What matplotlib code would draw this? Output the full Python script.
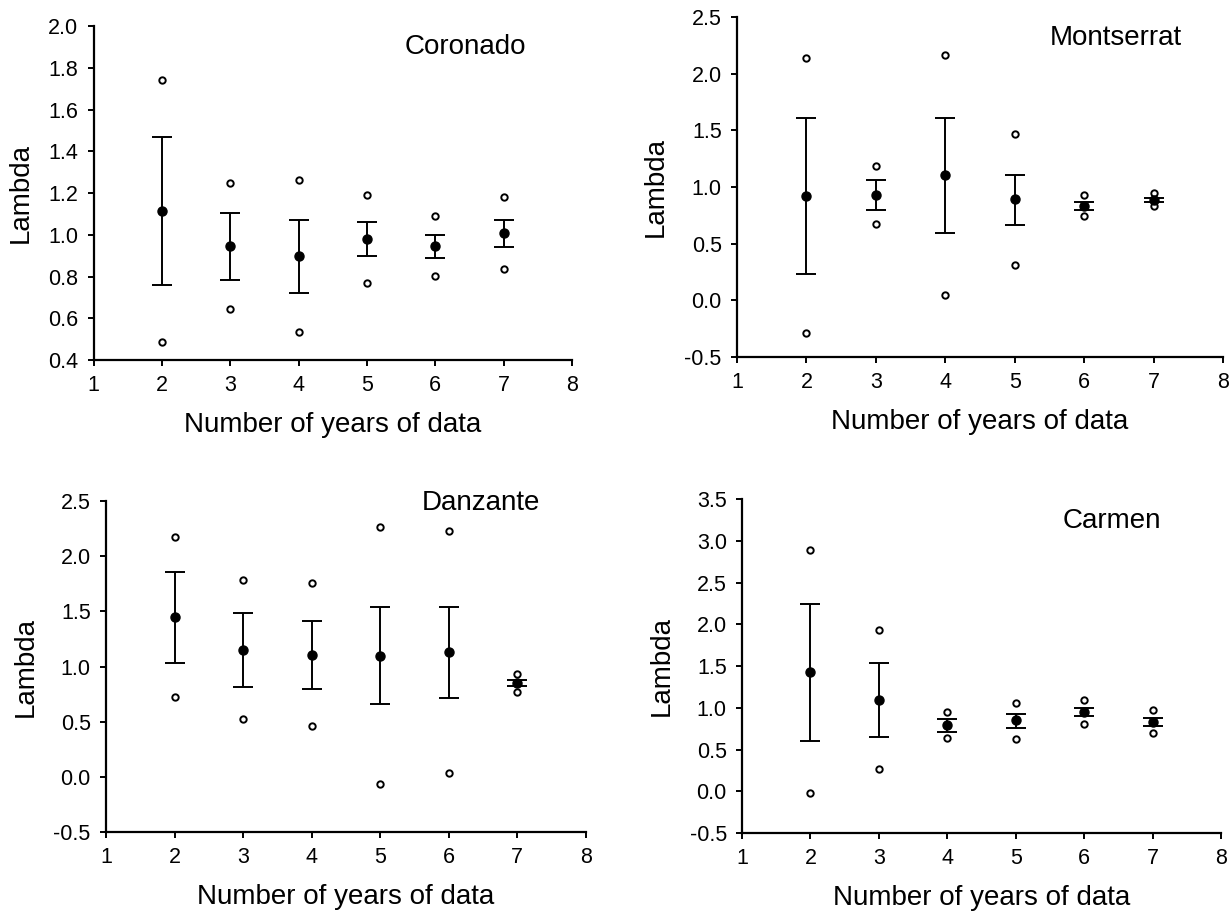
import numpy as np
import matplotlib
matplotlib.use('Agg')
import matplotlib.pyplot as plt
from matplotlib.ticker import FormatStrFormatter

plt.rcParams['font.family'] = ['Liberation Sans', 'DejaVu Sans']
plt.rcParams['axes.unicode_minus'] = False

# Data
years = [2, 3, 4, 5, 6, 7]

coronado_mean = [1.114, 0.944, 0.897, 0.978, 0.946, 1.007]
coronado_lo = [0.758, 0.783, 0.721, 0.898, 0.890, 0.941]
coronado_hi = [1.470, 1.106, 1.069, 1.060, 0.999, 1.071]
coronado_min = [0.488, 0.643, 0.534, 0.767, 0.801, 0.834]
coronado_max = [1.741, 1.250, 1.261, 1.189, 1.091, 1.182]

montserrat_mean = [0.924, 0.932, 1.103, 0.891, 0.832, 0.882]
montserrat_lo = [0.235, 0.794, 0.597, 0.665, 0.794, 0.868]
montserrat_hi = [1.612, 1.065, 1.612, 1.106, 0.865, 0.906]
montserrat_min = [-0.285, 0.676, 0.050, 0.309, 0.741, 0.835]
montserrat_max = [2.138, 1.185, 2.168, 1.468, 0.932, 0.947]

danzante_mean = [1.447, 1.147, 1.105, 1.099, 1.129, 0.847]
danzante_lo = [1.036, 0.811, 0.793, 0.661, 0.712, 0.820]
danzante_hi = [1.861, 1.486, 1.414, 1.540, 1.543, 0.877]
danzante_min = [0.724, 0.520, 0.457, -0.065, 0.031, 0.772]
danzante_max = [2.176, 1.780, 1.756, 2.266, 2.233, 0.934]

carmen_mean = [1.428, 1.096, 0.796, 0.848, 0.948, 0.832]
carmen_lo = [0.600, 0.648, 0.708, 0.760, 0.896, 0.776]
carmen_hi = [2.248, 1.536, 0.860, 0.920, 0.996, 0.880]
carmen_min = [-0.024, 0.264, 0.636, 0.632, 0.800, 0.692]
carmen_max = [2.884, 1.932, 0.944, 1.056, 1.092, 0.972]

panels = [
    ('Coronado', coronado_mean, coronado_lo, coronado_hi, coronado_min, coronado_max,
     np.arange(0.4, 2.01, 0.2), [0.0759, 0.6057, 0.3884, 0.3658], (0.778, 0.937), -0.124),
    ('Montserrat', montserrat_mean, montserrat_lo, montserrat_hi, montserrat_min, montserrat_max,
     np.arange(-0.5, 2.51, 0.5), [0.5982, 0.6090, 0.3945, 0.3724], (0.780, 0.938), -0.140),
    ('Danzante', danzante_mean, danzante_lo, danzante_hi, danzante_min, danzante_max,
     np.arange(-0.5, 2.51, 0.5), [0.0860, 0.0887, 0.3896, 0.3625], (0.781, 0.994), -0.140),
    ('Carmen', carmen_mean, carmen_lo, carmen_hi, carmen_min, carmen_max,
     np.arange(-0.5, 3.51, 0.5), [0.6023, 0.0876, 0.3888, 0.3658], (0.773, 0.934), -0.140),
]

fig = plt.figure(figsize=(12.32, 9.13), dpi=100)

for name, mean, lo, hi, vmin, vmax, yticks, pos, title_xy, ylab_x in panels:
    ax = fig.add_axes(pos)
    mean = np.array(mean)
    yerr = [mean - np.array(lo), np.array(hi) - mean]

    # min / max points
    ax.plot(years, vmin, 'o', ms=4.6, mfc='white', mec='black', mew=1.4, zorder=3, clip_on=False)
    ax.plot(years, vmax, 'o', ms=4.6, mfc='white', mec='black', mew=1.4, zorder=3, clip_on=False)
    # mean with error bars
    ax.errorbar(years, mean, yerr=yerr, fmt='o', color='black', ms=6.5,
                elinewidth=1.4, capsize=7.5, capthick=1.4, zorder=4)

    ax.set_xlim(1, 8)
    ax.set_ylim(yticks[0], yticks[-1])
    ax.set_xticks(range(1, 9))
    ax.set_yticks(yticks)
    ax.yaxis.set_major_formatter(FormatStrFormatter('%.1f'))

    for s in ['top', 'right']:
        ax.spines[s].set_visible(False)
    for s in ['left', 'bottom']:
        ax.spines[s].set_linewidth(1.6)

    ax.tick_params(direction='out', length=4, width=1.4, labelsize=15.5)
    ax.tick_params(axis='x', pad=7)
    ax.tick_params(axis='y', pad=7)

    ax.set_xlabel('Number of years of data', fontsize=20, labelpad=11)
    ax.set_ylabel('Lambda', fontsize=20)
    ax.yaxis.set_label_coords(ylab_x, 0.5)

    ax.text(title_xy[0], title_xy[1], name, transform=ax.transAxes,
            ha='center', va='center', fontsize=20)

fig.savefig('out.png', dpi=100)
